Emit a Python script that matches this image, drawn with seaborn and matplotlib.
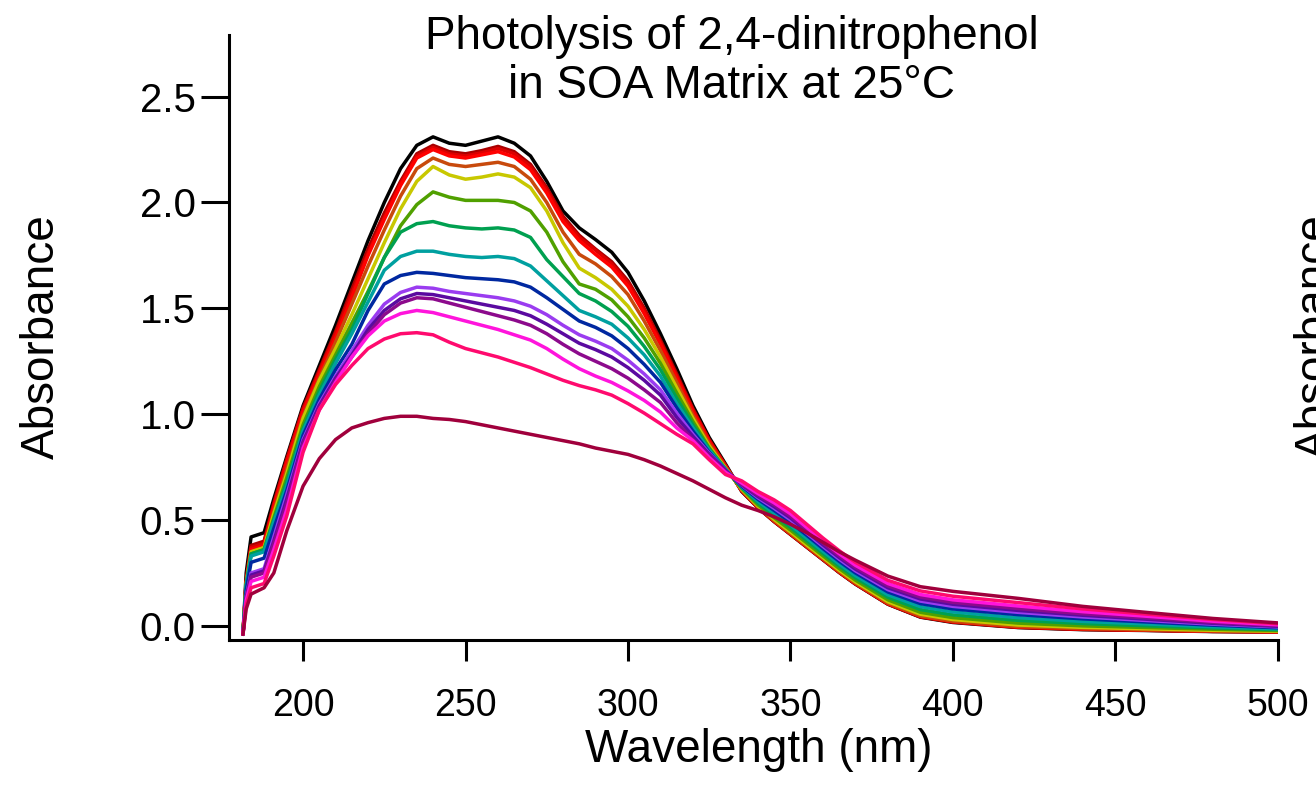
import pandas as pd
import seaborn as sns
import matplotlib.pyplot as plt

# wavelength grid (nm) shared by every spectrum
wavelength = [181.5, 182.5, 184, 188, 191, 195, 200, 205, 210, 215, 220, 225, 230, 235, 240,
              245, 250, 255, 260, 265, 270, 275, 280, 285, 290, 295, 300, 305, 310, 315, 320,
              325, 330, 335, 340, 345, 350, 355, 360, 365, 370, 380, 390, 400, 420, 440, 460,
              480, 500]

# absorbance spectra, first (t=0) to last
abs_black = [-0.04, 0.25, 0.42, 0.44, 0.60, 0.80, 1.04, 1.23, 1.42, 1.62, 1.82, 2.00, 2.16, 2.27, 2.31,
             2.28, 2.27, 2.29, 2.31, 2.28, 2.22, 2.10, 1.96, 1.88, 1.825, 1.765, 1.67, 1.535, 1.38, 1.215, 1.04,
             0.89, 0.765, 0.635, 0.558, 0.492, 0.432, 0.372, 0.312, 0.252, 0.197, 0.102, 0.041, 0.016, -0.008, -0.018, -0.022,
             -0.027, -0.029]
abs_darkred = [-0.04, 0.22, 0.38, 0.40, 0.58, 0.79, 1.03, 1.21, 1.39, 1.59, 1.78, 1.95, 2.10, 2.23, 2.27,
               2.24, 2.23, 2.245, 2.265, 2.24, 2.18, 2.07, 1.935, 1.845, 1.78, 1.72, 1.63, 1.50, 1.35, 1.19, 1.025,
               0.88, 0.76, 0.637, 0.559, 0.493, 0.433, 0.373, 0.313, 0.253, 0.198, 0.103, 0.042, 0.018, -0.007, -0.017, -0.021,
               -0.026, -0.029]
abs_red = [-0.04, 0.21, 0.37, 0.39, 0.57, 0.78, 1.02, 1.20, 1.38, 1.57, 1.76, 1.93, 2.09, 2.22, 2.26,
           2.23, 2.22, 2.235, 2.255, 2.23, 2.17, 2.06, 1.925, 1.835, 1.775, 1.71, 1.62, 1.49, 1.34, 1.18, 1.02,
           0.875, 0.755, 0.638, 0.559, 0.494, 0.434, 0.374, 0.314, 0.254, 0.199, 0.104, 0.044, 0.019, -0.006, -0.016, -0.021,
           -0.026, -0.028]
abs_red2 = [-0.04, 0.20, 0.36, 0.38, 0.56, 0.77, 1.01, 1.19, 1.36, 1.55, 1.75, 1.92, 2.08, 2.21, 2.25,
            2.22, 2.21, 2.225, 2.24, 2.215, 2.155, 2.045, 1.91, 1.82, 1.755, 1.695, 1.605, 1.475, 1.33, 1.17, 1.01,
            0.87, 0.755, 0.64, 0.56, 0.495, 0.435, 0.375, 0.315, 0.255, 0.20, 0.105, 0.045, 0.02, -0.005, -0.015, -0.02,
            -0.025, -0.028]
abs_orange = [-0.04, 0.20, 0.35, 0.37, 0.54, 0.74, 0.99, 1.17, 1.34, 1.52, 1.70, 1.87, 2.03, 2.16, 2.21,
              2.18, 2.17, 2.18, 2.19, 2.17, 2.11, 2.00, 1.86, 1.755, 1.71, 1.65, 1.565, 1.44, 1.30, 1.15, 0.995,
              0.86, 0.75, 0.642, 0.562, 0.497, 0.437, 0.377, 0.317, 0.257, 0.202, 0.107, 0.047, 0.022, -0.003, -0.013, -0.019,
              -0.024, -0.027]
abs_yellow = [-0.04, 0.20, 0.35, 0.37, 0.53, 0.72, 0.98, 1.16, 1.31, 1.47, 1.64, 1.81, 1.97, 2.10, 2.17,
              2.13, 2.11, 2.12, 2.135, 2.12, 2.07, 1.96, 1.81, 1.69, 1.645, 1.59, 1.51, 1.40, 1.27, 1.125, 0.98,
              0.85, 0.745, 0.645, 0.566, 0.503, 0.444, 0.383, 0.323, 0.263, 0.208, 0.114, 0.055, 0.030, 0.004, -0.007, -0.014,
              -0.021, -0.025]
abs_yellowgreen = [-0.04, 0.19, 0.34, 0.36, 0.51, 0.70, 0.95, 1.13, 1.28, 1.43, 1.58, 1.74, 1.89, 1.99, 2.05,
                   2.025, 2.01, 2.01, 2.01, 2.00, 1.96, 1.86, 1.72, 1.615, 1.59, 1.54, 1.46, 1.36, 1.24, 1.10, 0.965,
                   0.84, 0.74, 0.65, 0.572, 0.511, 0.453, 0.392, 0.331, 0.271, 0.216, 0.123, 0.064, 0.039, 0.013, 0.000, -0.008,
                   -0.016, -0.022]
abs_green = [-0.04, 0.19, 0.34, 0.36, 0.50, 0.68, 0.93, 1.11, 1.26, 1.40, 1.57, 1.74, 1.86, 1.90, 1.91,
             1.89, 1.88, 1.875, 1.88, 1.87, 1.835, 1.73, 1.65, 1.57, 1.535, 1.485, 1.415, 1.32, 1.21, 1.075, 0.95,
             0.835, 0.74, 0.653, 0.580, 0.522, 0.465, 0.403, 0.342, 0.282, 0.227, 0.135, 0.077, 0.052, 0.026, 0.011, 0.000,
             -0.010, -0.018]
abs_teal = [-0.04, 0.19, 0.33, 0.35, 0.49, 0.66, 0.92, 1.09, 1.24, 1.38, 1.53, 1.68, 1.745, 1.77, 1.77,
            1.755, 1.745, 1.74, 1.745, 1.735, 1.70, 1.63, 1.56, 1.49, 1.46, 1.425, 1.36, 1.28, 1.18, 1.05, 0.935,
            0.83, 0.74, 0.657, 0.589, 0.533, 0.477, 0.415, 0.353, 0.293, 0.238, 0.147, 0.091, 0.066, 0.039, 0.021, 0.009,
            -0.004, -0.014]
abs_blue = [-0.04, 0.17, 0.30, 0.32, 0.46, 0.64, 0.90, 1.07, 1.21, 1.33, 1.49, 1.615, 1.655, 1.67, 1.665,
            1.655, 1.645, 1.64, 1.635, 1.625, 1.60, 1.55, 1.495, 1.44, 1.41, 1.37, 1.31, 1.235, 1.15, 1.03, 0.92,
            0.82, 0.735, 0.66, 0.598, 0.545, 0.490, 0.428, 0.365, 0.305, 0.250, 0.160, 0.105, 0.080, 0.053, 0.033, 0.018,
            0.003, -0.009]
abs_violet = [-0.04, 0.14, 0.25, 0.27, 0.42, 0.62, 0.88, 1.05, 1.18, 1.30, 1.42, 1.52, 1.575, 1.60, 1.595,
              1.58, 1.57, 1.56, 1.55, 1.535, 1.51, 1.47, 1.42, 1.375, 1.345, 1.31, 1.255, 1.19, 1.115, 1.005, 0.905,
              0.815, 0.735, 0.665, 0.605, 0.555, 0.501, 0.438, 0.375, 0.315, 0.260, 0.171, 0.117, 0.092, 0.064, 0.042, 0.025,
              0.008, -0.005]
abs_darkpurple = [-0.04, 0.13, 0.24, 0.26, 0.40, 0.60, 0.87, 1.04, 1.17, 1.28, 1.40, 1.49, 1.545, 1.57, 1.565,
                  1.55, 1.535, 1.52, 1.505, 1.49, 1.465, 1.425, 1.38, 1.335, 1.305, 1.27, 1.22, 1.16, 1.09, 0.985, 0.895,
                  0.81, 0.735, 0.667, 0.611, 0.563, 0.510, 0.446, 0.383, 0.323, 0.268, 0.180, 0.127, 0.102, 0.073, 0.050, 0.031,
                  0.012, -0.002]
abs_purple = [-0.04, 0.13, 0.23, 0.25, 0.39, 0.58, 0.86, 1.03, 1.16, 1.27, 1.38, 1.47, 1.525, 1.55, 1.545,
              1.525, 1.505, 1.485, 1.465, 1.445, 1.42, 1.38, 1.33, 1.285, 1.25, 1.215, 1.17, 1.115, 1.055, 0.96, 0.88,
              0.805, 0.73, 0.67, 0.617, 0.571, 0.519, 0.455, 0.391, 0.331, 0.276, 0.189, 0.136, 0.111, 0.082, 0.057, 0.037,
              0.017, 0.001]
abs_magenta = [-0.04, 0.12, 0.21, 0.23, 0.36, 0.55, 0.84, 1.02, 1.15, 1.27, 1.37, 1.44, 1.475, 1.49, 1.48,
               1.46, 1.44, 1.42, 1.40, 1.375, 1.35, 1.31, 1.26, 1.215, 1.18, 1.15, 1.11, 1.065, 1.01, 0.935, 0.875,
               0.795, 0.725, 0.675, 0.625, 0.581, 0.530, 0.465, 0.401, 0.341, 0.286, 0.200, 0.148, 0.123, 0.094, 0.067, 0.045,
               0.022, 0.005]
abs_pink = [-0.04, 0.10, 0.18, 0.20, 0.33, 0.52, 0.82, 1.02, 1.14, 1.23, 1.31, 1.355, 1.38, 1.385, 1.375,
            1.34, 1.31, 1.29, 1.27, 1.245, 1.22, 1.19, 1.16, 1.135, 1.115, 1.09, 1.05, 1.005, 0.955, 0.905, 0.86,
            0.785, 0.715, 0.685, 0.635, 0.595, 0.545, 0.48, 0.415, 0.355, 0.30, 0.215, 0.165, 0.14, 0.11, 0.08, 0.055,
            0.03, 0.01]
abs_maroon = [-0.04, 0.08, 0.15, 0.18, 0.25, 0.45, 0.66, 0.79, 0.88, 0.935, 0.96, 0.98, 0.99, 0.99, 0.98,
              0.975, 0.965, 0.95, 0.935, 0.92, 0.905, 0.89, 0.875, 0.86, 0.84, 0.825, 0.81, 0.785, 0.755, 0.72, 0.685,
              0.645, 0.605, 0.57, 0.545, 0.515, 0.48, 0.44, 0.395, 0.35, 0.31, 0.235, 0.185, 0.163, 0.13, 0.092, 0.063,
              0.035, 0.014]

trace_names = ['black', 'darkred', 'red', 'red2', 'orange', 'yellow', 'yellowgreen', 'green',
               'teal', 'blue', 'violet', 'darkpurple', 'purple', 'magenta', 'pink', 'maroon']
trace_colors = ['#000000', '#a80000', '#dc0000', '#ff0000', '#c84a0c', '#c8c800', '#50a000', '#00a050',
                '#00a0a0', '#0028a0', '#9a3cf0', '#5a0aa0', '#8c0a8c', '#ff14dc', '#ff0a6e', '#a0003c']
traces = [abs_black, abs_darkred, abs_red, abs_red2, abs_orange, abs_yellow, abs_yellowgreen, abs_green,
          abs_teal, abs_blue, abs_violet, abs_darkpurple, abs_purple, abs_magenta, abs_pink, abs_maroon]

frames = []
for name, values in zip(trace_names, traces):
    assert len(values) == len(wavelength), name
    frames.append(pd.DataFrame({'wavelength': wavelength, 'absorbance': values, 'trace': name}))
df = pd.concat(frames, ignore_index=True)

sns.set_style('ticks')
plt.rcParams['font.family'] = ['Liberation Sans', 'DejaVu Sans']
plt.rcParams['text.color'] = 'black'

fig = plt.figure(figsize=(13.16, 7.87), dpi=100)
ax = fig.add_axes([0.174, 0.187, 0.797, 0.769])

sns.lineplot(data=df, x='wavelength', y='absorbance', hue='trace', hue_order=trace_names,
             palette=trace_colors, estimator=None, linewidth=2.5, legend=False, ax=ax)

ax.set_xlim(177.2, 500)
ax.set_ylim(-0.066, 2.793)
ax.set_xticks([200, 250, 300, 350, 400, 450, 500])
ax.set_yticks([0.0, 0.5, 1.0, 1.5, 2.0, 2.5])
ax.yaxis.set_major_formatter('{x:.1f}')
ax.set_xlabel('')
ax.set_ylabel('')

sns.despine(ax=ax)
for side in ['left', 'bottom']:
    ax.spines[side].set_linewidth(2.2)
    ax.spines[side].set_color('black')
ax.tick_params(axis='y', direction='out', length=20, width=2.2, pad=4, labelsize=29,
               colors='black', labelcolor='black')
ax.tick_params(axis='x', direction='out', length=15, width=2.2, pad=20, labelsize=27,
               colors='black', labelcolor='black')

fig.text(732 / 1316, 1 - 98 / 787, 'Photolysis of 2,4-dinitrophenol\nin SOA Matrix at 25°C',
         ha='center', va='baseline', multialignment='center', fontsize=33, linespacing=1.16)
fig.text(759 / 1316, 1 - 762 / 787, 'Wavelength (nm)', ha='center', va='baseline', fontsize=33)
fig.text(20 / 1316, 1 - 336.5 / 787, 'Absorbance', rotation=90, ha='left', va='center', fontsize=33)
fig.text(1294 / 1316, 1 - 336.5 / 787, 'Absorbance', rotation=90, ha='left', va='center', fontsize=33)

fig.savefig('out.png', dpi=100)
plt.close(fig)
